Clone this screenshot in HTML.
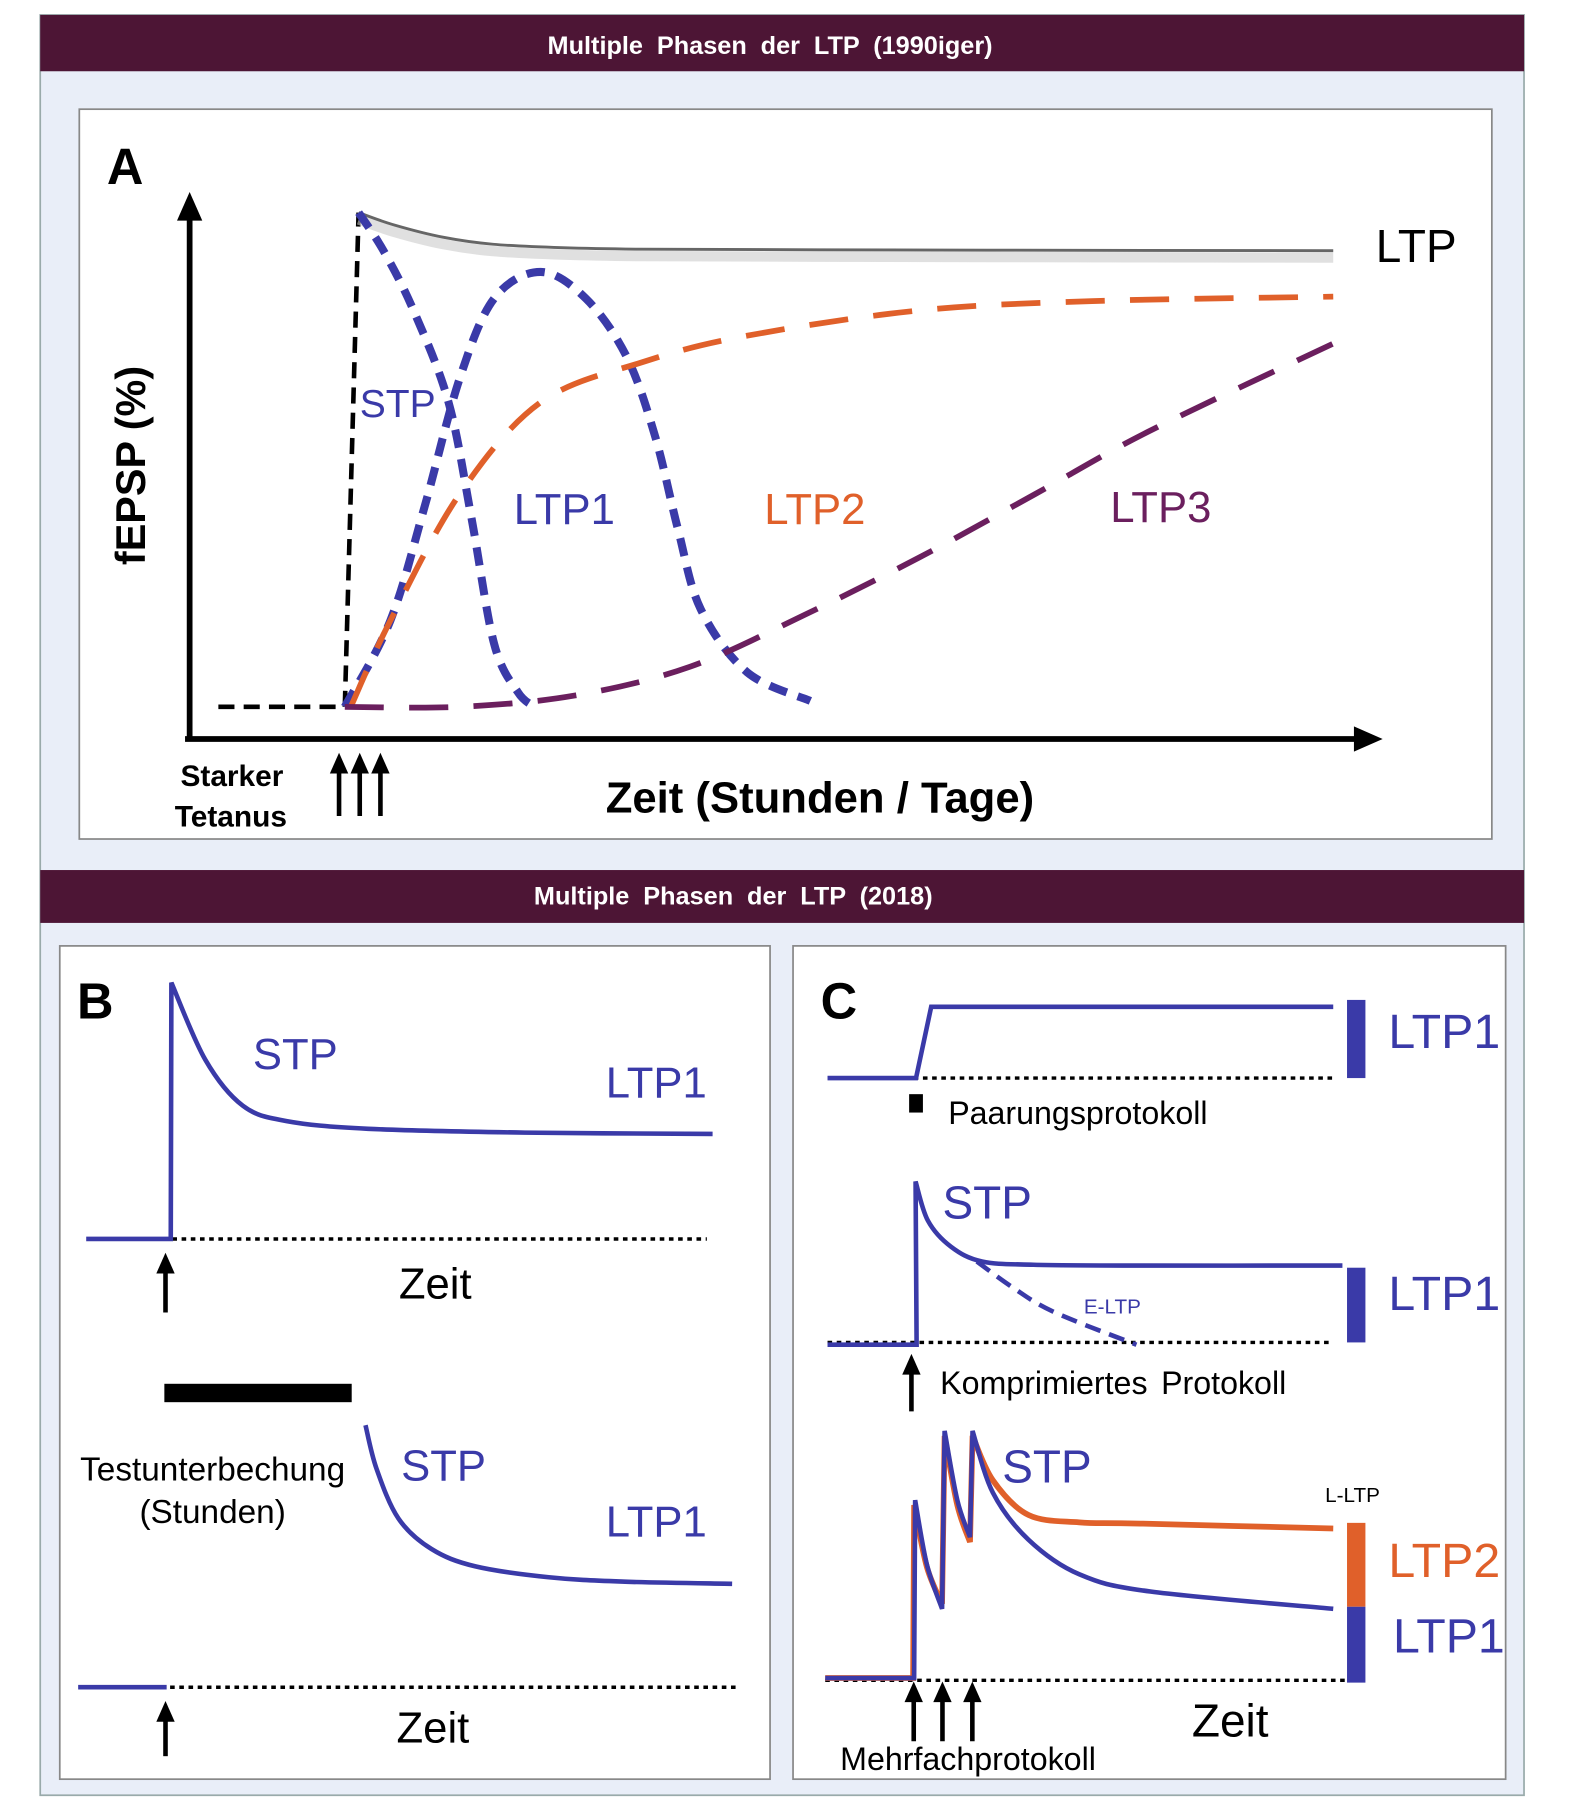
<!DOCTYPE html>
<html><head><meta charset="utf-8"><style>
html,body{margin:0;padding:0;background:#fff}
svg{display:block;font-family:"Liberation Sans",sans-serif}
</style></head><body>
<svg id="s" width="1570" height="1801" viewBox="0 0 1366 1567" preserveAspectRatio="none" xmlns="http://www.w3.org/2000/svg">
<rect x="35" y="13" width="1291" height="1549" fill="#e9eef8" stroke="#9aa" stroke-width="1.5"/>
<rect x="35" y="13" width="1291" height="49" fill="#4d1535"/>
<text x="670" y="47" fill="#fff" font-size="22" font-weight="bold" text-anchor="middle" word-spacing="6">Multiple Phasen der LTP (1990iger)</text>
<rect x="69" y="95" width="1229" height="635" fill="#fff" stroke="#888" stroke-width="1.5"/>
<rect x="35" y="757" width="1291" height="46" fill="#4d1535"/>
<text x="638" y="787" fill="#fff" font-size="22" font-weight="bold" text-anchor="middle" word-spacing="6">Multiple Phasen der LTP (2018)</text>
<rect x="52" y="823" width="618" height="725" fill="#fff" stroke="#888" stroke-width="1.5"/>
<rect x="690" y="823" width="620" height="725" fill="#fff" stroke="#888" stroke-width="1.5"/>

<!-- Panel A static -->
<text x="93" y="160" font-size="44" font-weight="bold">A</text>
<line x1="165" y1="645" x2="165" y2="190" stroke="#000" stroke-width="5"/>
<polygon points="165,167 154,192 176,192" fill="#000"/>
<line x1="161" y1="643" x2="1180" y2="643" stroke="#000" stroke-width="5"/>
<polygon points="1203,643 1178,632 1178,654" fill="#000"/>
<text transform="translate(126,405) rotate(-90)" font-size="36" font-weight="bold" text-anchor="middle">fEPSP (%)</text>
<text x="527" y="707" font-size="38" font-weight="bold">Zeit (Stunden / Tage)</text>
<text x="157" y="684" font-size="26" font-weight="bold">Starker</text>
<text x="152" y="719" font-size="26" font-weight="bold">Tetanus</text>
<g id="arrowsA"></g>
<g id="plotA"></g>
<text x="1197" y="228" font-size="40">LTP</text>
<text x="313" y="363" font-size="34" fill="#3a3aa8">STP</text>
<text x="447" y="456" font-size="38" fill="#3a3aa8">LTP1</text>
<text x="665" y="456" font-size="38" fill="#e0602a">LTP2</text>
<text x="966" y="454" font-size="38" fill="#6b1f5e">LTP3</text>

<!-- Panel B -->
<text x="67" y="886" font-size="44" font-weight="bold">B</text>
<g id="plotB"></g>
<text x="220" y="930" font-size="38" fill="#3a3aa8">STP</text>
<text x="527" y="955" font-size="38" fill="#3a3aa8">LTP1</text>
<text x="347" y="1130" font-size="38">Zeit</text>
<rect x="143" y="1204" width="163" height="16" fill="#000"/>
<text x="185" y="1288" font-size="29" text-anchor="middle">Testunterbechung</text>
<text x="185" y="1325" font-size="29" text-anchor="middle">(Stunden)</text>
<text x="349" y="1288" font-size="38" fill="#3a3aa8">STP</text>
<text x="527" y="1337" font-size="38" fill="#3a3aa8">LTP1</text>
<text x="345" y="1516" font-size="38">Zeit</text>

<!-- Panel C -->
<text x="714" y="886" font-size="44" font-weight="bold">C</text>
<g id="plotC"></g>
<text x="1208" y="912" font-size="42" fill="#3a3aa8">LTP1</text>
<rect x="791" y="952" width="12" height="16" fill="#000"/>
<text x="825" y="978" font-size="28">Paarungsprotokoll</text>
<text x="820" y="1060" font-size="40" fill="#3a3aa8">STP</text>
<text x="943" y="1143" font-size="18" fill="#3a3aa8">E-LTP</text>
<text x="1208" y="1140" font-size="42" fill="#3a3aa8">LTP1</text>
<text x="818" y="1213" font-size="28" word-spacing="4">Komprimiertes Protokoll</text>
<text x="872" y="1290" font-size="40" fill="#3a3aa8">STP</text>
<text x="1153" y="1307" font-size="18">L-LTP</text>
<text x="1208" y="1372" font-size="42" fill="#e0602a">LTP2</text>
<text x="1212" y="1438" font-size="42" fill="#3a3aa8">LTP1</text>
<text x="1037" y="1511" font-size="40">Zeit</text>
<text x="731" y="1540" font-size="28">Mehrfachprotokoll</text>
</svg>
<script>
// ---- Panel A data (time 0..100, response 0..100 %) ----
const ltpT  = [1.4, 5, 10, 15, 22, 30, 45, 65, 100];
const ltpV  = [100, 97.5, 95, 93.6, 92.9, 92.6, 92.5, 92.4, 92.3];
const stpT  = [1.4, 4, 7, 10.5, 12.8, 15.1, 17.5, 19.2];
const stpV  = [100, 92, 80, 61.6, 38.4, 12.8, 3, 0];
const ltp1T = [0, 4.6, 8.1, 11.6, 15.1, 19.8, 24.4, 28.5, 31.4, 33.7, 36, 40.7, 47.1];
const ltp1V = [0, 17.4, 40.7, 66.3, 82.6, 88, 82.6, 70.9, 54.7, 36, 19.8, 7, 1.2];
const ltp2T = [0.6, 4.6, 11.6, 19.8, 30.2, 40.7, 58.1, 75.6, 100];
const ltp2V = [0, 17.4, 43, 61.6, 69.8, 75.1, 80.2, 82.1, 83];
const ltp3T = [0, 11.6, 23.3, 34.9, 46.5, 58.1, 69.8, 81.4, 100];
const ltp3V = [0, 0, 2.3, 8.1, 18.6, 30.2, 43, 55.8, 73.5];
// ---- Panel B data (time 0..100, response 0..100) ----
const bTopT = [0, 13.5, 13.6, 19, 25, 32, 45, 70, 100];
const bTopV = [0, 0, 100, 70, 52, 46, 43, 41.5, 41];
const bBotT = [0, 3, 9, 18, 30, 50, 70, 100];
const bBotV = [100, 80, 57, 43, 35, 30, 28, 27];
// ---- Panel C data (time 0..100, response 0..100) ----
const c1T = [0, 17.5, 20.5, 100];
const c1V = [0, 0, 100, 100];
const c2T = [0, 17.3, 17.1, 19.5, 24, 30, 40, 60, 100];
const c2V = [0, 0, 100, 76, 60, 51, 49, 48.5, 48.5];
const eltpT = [29, 36, 44, 60];
const eltpV = [51, 35, 20, 0];
const c3BlueT = [0, 17.5, 17.7, 20, 23, 23.5, 26, 28.5, 29, 33, 40, 50, 64, 100];
const c3BlueV = [0, 0, 72, 46, 28, 100, 72, 57, 100, 75, 56, 42, 35, 28];
const c3OrT   = [0, 17.3, 17.5, 20, 23, 23.5, 26, 28.5, 29, 33, 40, 50, 62, 100];
const c3OrV   = [0, 0, 70, 45, 30, 98, 70, 55, 98, 80, 66, 63, 62.5, 60.5];

const NS='http://www.w3.org/2000/svg';
function mk(tag, attrs, parent){const e=document.createElementNS(NS,tag);for(const k in attrs)e.setAttribute(k,attrs[k]);parent.appendChild(e);return e;}
function smooth(pts){let d='M'+pts[0][0]+','+pts[0][1];for(let i=0;i<pts.length-1;i++){const p0=pts[i-1]||pts[i],p1=pts[i],p2=pts[i+1],p3=pts[i+2]||p2;const c1=[p1[0]+(p2[0]-p0[0])/6,p1[1]+(p2[1]-p0[1])/6],c2=[p2[0]-(p3[0]-p1[0])/6,p2[1]-(p3[1]-p1[1])/6];d+=' C'+c1[0]+','+c1[1]+' '+c2[0]+','+c2[1]+' '+p2[0]+','+p2[1];}return d;}
function poly(pts){return 'M'+pts.map(p=>p[0]+','+p[1]).join(' L');}
function axis(x0,x1,y0,y1){return {x:t=>x0+t*(x1-x0)/100,y:v=>y0-v*(y0-y1)/100};}
function pts(ax,T,V){return T.map((t,i)=>[ax.x(t),ax.y(V[i])]);}

// Panel A
const gA=document.getElementById('plotA');
const A=axis(300,1160,615,185);
let e;
e=mk('path',{d:'M190,615 L300,615 L312,185',fill:'none',stroke:'#000','stroke-width':4,'stroke-dasharray':'14,8'},gA);


e=mk('path',{d:smooth(pts(A,ltpT,ltpV)),fill:'none',stroke:'#ccc','stroke-width':9,transform:'translate(0,6)',opacity:0.6},gA);


e=mk('path',{d:smooth(pts(A,ltpT,ltpV)),fill:'none',stroke:'#666','stroke-width':2.5},gA);


e=mk('path',{d:smooth(pts(A,stpT,stpV)),fill:'none',stroke:'#3a3aa8','stroke-width':7,'stroke-dasharray':'16,10'},gA);


e=mk('path',{d:smooth(pts(A,ltp1T,ltp1V)),fill:'none',stroke:'#3a3aa8','stroke-width':7,'stroke-dasharray':'16,10'},gA);


e=mk('path',{d:smooth(pts(A,ltp2T,ltp2V)),fill:'none',stroke:'#e0602a','stroke-width':5,'stroke-dasharray':'34,22'},gA);


e=mk('path',{d:smooth(pts(A,ltp3T,ltp3V)),fill:'none',stroke:'#6b1f5e','stroke-width':5,'stroke-dasharray':'34,22'},gA);



function arrow(g,x,yb,yt,name){
  const l=mk('line',{x1:x,y1:yb,x2:x,y2:yt+14,stroke:'#000','stroke-width':4},g);
  
  
  const p=mk('polygon',{points:`${x},${yt} ${x-8},${yt+18} ${x+8},${yt+18}`,fill:'#000'},g);
  
  
}
const gAr=document.getElementById('arrowsA');
[295,313,331].forEach((x,i)=>arrow(gAr,x,710,655,'tetanus-arrow-'+(i+1)));

// Panel B
const gB=document.getElementById('plotB');
const B1=axis(75,620,1078,855);
e=mk('line',{x1:150,y1:1078,x2:615,y2:1078,stroke:'#000','stroke-width':3,'stroke-dasharray':'4,4'},gB);


const bt=pts(B1,bTopT,bTopV);
e=mk('path',{d:poly(bt.slice(0,3))+' '+smooth(bt.slice(2)).replace('M','L'),fill:'none',stroke:'#3a3aa8','stroke-width':4},gB);


arrow(gB,144,1142,1090,'stimulus-arrow-b1');
const B2=axis(318,637,1378+ (1378-1240)*27/73,1240);
e=mk('line',{x1:68,y1:1468,x2:145,y2:1468,stroke:'#3a3aa8','stroke-width':4},gB);


e=mk('line',{x1:148,y1:1468,x2:640,y2:1468,stroke:'#000','stroke-width':3,'stroke-dasharray':'4,4'},gB);


e=mk('path',{d:smooth(pts(B2,bBotT,bBotV)),fill:'none',stroke:'#3a3aa8','stroke-width':4},gB);


arrow(gB,144,1528,1480,'stimulus-arrow-b2');

// Panel C
const gC=document.getElementById('plotC');
const C1=axis(720,1160,938,876);
e=mk('line',{x1:795,y1:938,x2:1160,y2:938,stroke:'#000','stroke-width':3,'stroke-dasharray':'4,4'},gC);


e=mk('path',{d:poly(pts(C1,c1T,c1V)),fill:'none',stroke:'#3a3aa8','stroke-width':4},gC);


e=mk('rect',{x:1172,y:870,width:16,height:68,fill:'#3a3aa8'},gC);



const C2=axis(720,1168,1170,1028);
e=mk('line',{x1:720,y1:1168,x2:1160,y2:1168,stroke:'#000','stroke-width':3,'stroke-dasharray':'4,4'},gC);


const c2p=pts(C2,c2T,c2V);
e=mk('path',{d:poly(c2p.slice(0,3))+' '+smooth(c2p.slice(2)).replace('M','L'),fill:'none',stroke:'#3a3aa8','stroke-width':4},gC);


e=mk('path',{d:smooth(pts(C2,eltpT,eltpV)),fill:'none',stroke:'#3a3aa8','stroke-width':4,'stroke-dasharray':'14,8'},gC);


e=mk('rect',{x:1172,y:1103,width:16,height:65,fill:'#3a3aa8'},gC);


arrow(gC,793,1228,1178,'stimulus-arrow-c2');

const C3=axis(718,1160,1460,1245);
e=mk('line',{x1:718,y1:1462,x2:1170,y2:1462,stroke:'#000','stroke-width':3,'stroke-dasharray':'4,4'},gC);


function spiky(T,V){const p=pts(C3,T,V);let d=poly(p.slice(0,3));
 d+=' '+smooth(p.slice(2,5)).replace('M','L')+' L'+p[5][0]+','+p[5][1]+' '+smooth(p.slice(5,8)).replace('M','L')+' L'+p[8][0]+','+p[8][1]+' '+smooth(p.slice(8)).replace('M','L');return d;}
e=mk('path',{d:spiky(c3OrT,c3OrV),fill:'none',stroke:'#e0602a','stroke-width':5},gC);


e=mk('path',{d:spiky(c3BlueT,c3BlueV),fill:'none',stroke:'#3a3aa8','stroke-width':4},gC);


e=mk('rect',{x:1172,y:1325,width:16,height:73,fill:'#e0602a'},gC);


e=mk('rect',{x:1172,y:1398,width:16,height:66,fill:'#3a3aa8'},gC);


[795,820,846].forEach((x,i)=>arrow(gC,x,1515,1463,'stimulus-arrow-c3-'+(i+1)));
</script>
</body></html>
